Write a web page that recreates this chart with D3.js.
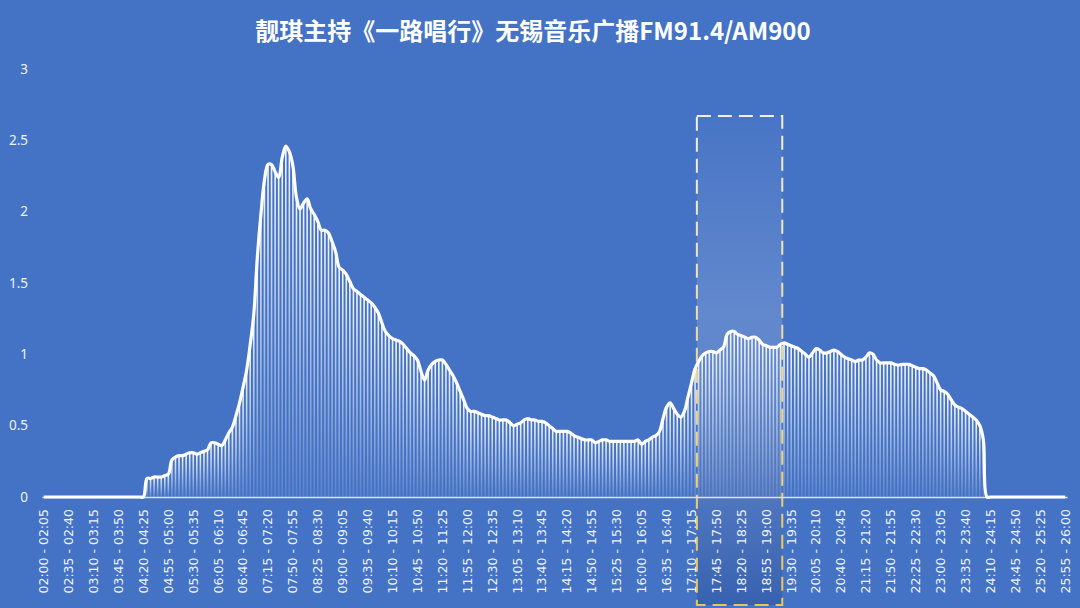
<!DOCTYPE html>
<html>
<head>
<meta charset="utf-8">
<script src="https://cdn.jsdelivr.net/npm/d3@7"></script>
<style>
  html, body { margin: 0; padding: 0; background: #4472c4; }
  svg { display: block; }
</style>
</head>
<body>
<div id="chart"></div>
<script>
// 5-minute slots from 02:00 to 26:00 (288 slots)
const startMinute = 120;
const slotMinutes = 5;
const slotCount = 288;

// one row = one hour (12 slots)
const ratings = [
    0, 0, 0, 0, 0, 0, 0, 0, 0, 0, 0, 0,                                     // 02
    0, 0, 0, 0, 0, 0, 0, 0, 0, 0, 0, 0,                                     // 03
    0, 0, 0, 0, 0, 0.13, 0.13, 0.14, 0.14, 0.14, 0.15, 0.16,                 // 04
    0.26, 0.28, 0.29, 0.29, 0.30, 0.31, 0.31, 0.30, 0.31, 0.32, 0.33, 0.38,  // 05
    0.38, 0.37, 0.36, 0.40, 0.45, 0.49, 0.57, 0.66, 0.77, 0.89, 1.07, 1.28,  // 06
    1.68, 1.98, 2.22, 2.33, 2.33, 2.28, 2.24, 2.38, 2.46, 2.42, 2.32, 2.10,  // 07
    2.02, 2.06, 2.09, 2.02, 1.98, 1.93, 1.87, 1.87, 1.85, 1.79, 1.72, 1.61,  // 08
    1.59, 1.56, 1.51, 1.46, 1.44, 1.42, 1.40, 1.38, 1.36, 1.33, 1.29, 1.22,  // 09
    1.16, 1.13, 1.11, 1.10, 1.09, 1.07, 1.04, 1.01, 0.99, 0.96, 0.88, 0.82,  // 10
    0.89, 0.93, 0.95, 0.96, 0.96, 0.93, 0.89, 0.85, 0.80, 0.74, 0.68, 0.62,  // 11
    0.60, 0.60, 0.59, 0.58, 0.57, 0.57, 0.56, 0.55, 0.54, 0.54, 0.54, 0.52,  // 12
    0.50, 0.51, 0.52, 0.54, 0.55, 0.54, 0.54, 0.53, 0.53, 0.52, 0.50, 0.48,  // 13
    0.46, 0.46, 0.46, 0.46, 0.45, 0.43, 0.42, 0.41, 0.40, 0.40, 0.40, 0.38,  // 14
    0.39, 0.40, 0.40, 0.39, 0.39, 0.39, 0.39, 0.39, 0.39, 0.39, 0.39, 0.40,  // 15
    0.37, 0.39, 0.40, 0.42, 0.43, 0.46, 0.55, 0.63, 0.66, 0.62, 0.58, 0.56,  // 16
    0.60, 0.70, 0.80, 0.90, 0.95, 0.99, 1.01, 1.02, 1.02, 1.01, 1.03, 1.05,  // 17
    1.14, 1.16, 1.16, 1.14, 1.13, 1.12, 1.11, 1.12, 1.12, 1.10, 1.07, 1.06,  // 18
    1.05, 1.05, 1.05, 1.07, 1.08, 1.07, 1.06, 1.05, 1.04, 1.02, 1.00, 0.98,  // 19
    1.01, 1.04, 1.03, 1.01, 1.01, 1.02, 1.03, 1.02, 1.00, 0.98, 0.97, 0.96,  // 20
    0.95, 0.96, 0.96, 0.98, 1.01, 1.00, 0.96, 0.94, 0.94, 0.94, 0.94, 0.93,  // 21
    0.925, 0.93, 0.93, 0.93, 0.92, 0.91, 0.90, 0.90, 0.89, 0.87, 0.85, 0.80, // 22
    0.75, 0.74, 0.72, 0.68, 0.645, 0.63, 0.62, 0.60, 0.58, 0.56, 0.54, 0.50, // 23
    0.40, 0, 0, 0, 0, 0, 0, 0, 0, 0, 0, 0,                                  // 24
    0, 0, 0, 0, 0, 0, 0, 0, 0, 0, 0, 0                                      // 25
];

const yTicks = [0, 0.5, 1, 1.5, 2, 2.5, 3];
const labelEvery = 7;
const highlightFrom = '17:20';
const highlightTo = '19:20';
const highlightTop = 2.67;
const title = '靓琪主持《一路唱行》无锡音乐广播FM91.4/AM900';

function fmt(min) {
    const h = Math.floor(min / 60), m = min % 60;
    return String(h).padStart(2, '0') + ':' + String(m).padStart(2, '0');
}
const slots = d3.range(slotCount).map(i => {
    const s = startMinute + i * slotMinutes;
    return {start: fmt(s), label: fmt(s) + ' - ' + fmt(s + slotMinutes), value: ratings[i]};
});

const width = 1080, height = 608;
const margin = {top: 69, right: 13, bottom: 111, left: 42};

const svg = d3.select('#chart').append('svg')
    .attr('width', width)
    .attr('height', height);

svg.append('rect')
    .attr('width', width)
    .attr('height', height)
    .attr('fill', '#4472c4');

const defs = svg.append('defs');

const barGrad = defs.append('linearGradient')
    .attr('id', 'barGrad')
    .attr('x1', 0).attr('y1', 0).attr('x2', 0).attr('y2', 1);
barGrad.append('stop').attr('offset', '0%').attr('stop-color', '#ffffff').attr('stop-opacity', 0.95);
barGrad.append('stop').attr('offset', '100%').attr('stop-color', '#ffffff').attr('stop-opacity', 0.12);

const hlFill = defs.append('linearGradient')
    .attr('id', 'hlFill')
    .attr('x1', 0).attr('y1', 0).attr('x2', 0).attr('y2', 1);
hlFill.append('stop').attr('offset', '0%').attr('stop-color', '#ffffff').attr('stop-opacity', 0.02);
hlFill.append('stop').attr('offset', '40%').attr('stop-color', '#ffffff').attr('stop-opacity', 0.16);
hlFill.append('stop').attr('offset', '100%').attr('stop-color', '#1a3a80').attr('stop-opacity', 0.3);

const hlStroke = defs.append('linearGradient')
    .attr('id', 'hlStroke')
    .attr('x1', 0).attr('y1', 0).attr('x2', 0).attr('y2', 1);
hlStroke.append('stop').attr('offset', '0%').attr('stop-color', '#f3eee0');
hlStroke.append('stop').attr('offset', '100%').attr('stop-color', '#e8c650');

const x = d3.scaleBand()
    .domain(slots.map(d => d.start))
    .range([margin.left, width - margin.right])
    .paddingInner(0);

const y = d3.scaleLinear()
    .domain([0, 3])
    .range([height - margin.bottom, margin.top]);

// title
svg.append('text')
    .attr('x', 533)
    .attr('y', 40)
    .attr('text-anchor', 'middle')
    .attr('fill', '#ffffff')
    .style('font-family', '"Noto Sans CJK SC", "Noto Sans", sans-serif')
    .style('font-weight', 700)
    .style('font-size', '24px')
    .text(title);

// y axis (labels only)
const yAxis = svg.append('g')
    .attr('transform', `translate(${margin.left - 14},0)`)
    .call(d3.axisLeft(y).tickValues(yTicks).tickSize(0).tickFormat(d3.format('')));
yAxis.select('.domain').remove();
yAxis.selectAll('text')
    .attr('x', 0)
    .attr('fill', '#eef3fb')
    .style('font-family', '"Noto Sans", sans-serif')
    .style('font-size', '13.5px');

// bars
const barW = x.bandwidth() * 0.45;
svg.append('g')
    .selectAll('rect')
    .data(slots.filter(d => d.value > 0))
    .join('rect')
    .attr('x', d => x(d.start) + (x.bandwidth() - barW) / 2)
    .attr('y', d => y(d.value))
    .attr('width', barW)
    .attr('height', d => y(0) - y(d.value))
    .attr('fill', 'url(#barGrad)');

// highlight box
svg.append('rect')
    .attr('x', x(highlightFrom))
    .attr('y', y(highlightTop))
    .attr('width', x(highlightTo) - x(highlightFrom))
    .attr('height', height - 3 - y(highlightTop))
    .attr('fill', 'url(#hlFill)')
    .attr('stroke', 'url(#hlStroke)')
    .attr('stroke-width', 2)
    .attr('stroke-dasharray', '14,7');

// x axis
const xAxis = svg.append('g')
    .attr('transform', `translate(0,${y(0)})`)
    .call(d3.axisBottom(x)
        .tickValues(slots.filter((d, i) => i % labelEvery === 0).map(d => d.start))
        .tickSize(0)
        .tickFormat(s => slots.find(d => d.start === s).label));
xAxis.select('.domain')
    .attr('stroke', '#d6e1f4')
    .attr('stroke-width', 1.5);
xAxis.selectAll('text')
    .attr('transform', 'rotate(-90)')
    .attr('x', -12)
    .attr('y', 0)
    .attr('dy', '0.35em')
    .attr('text-anchor', 'end')
    .attr('fill', '#eef3fb')
    .style('font-family', '"DejaVu Sans", sans-serif')
    .style('font-size', '12.5px');

// smoothed line
const line = d3.line()
    .x(d => x(d.start) + x.bandwidth() / 2)
    .y(d => y(d.value))
    .curve(d3.curveCatmullRom.alpha(0.5));

svg.append('path')
    .datum(slots)
    .attr('d', line)
    .attr('fill', 'none')
    .attr('stroke', '#ffffff')
    .attr('stroke-width', 3.2)
    .attr('stroke-linejoin', 'round');
</script>
</body>
</html>
